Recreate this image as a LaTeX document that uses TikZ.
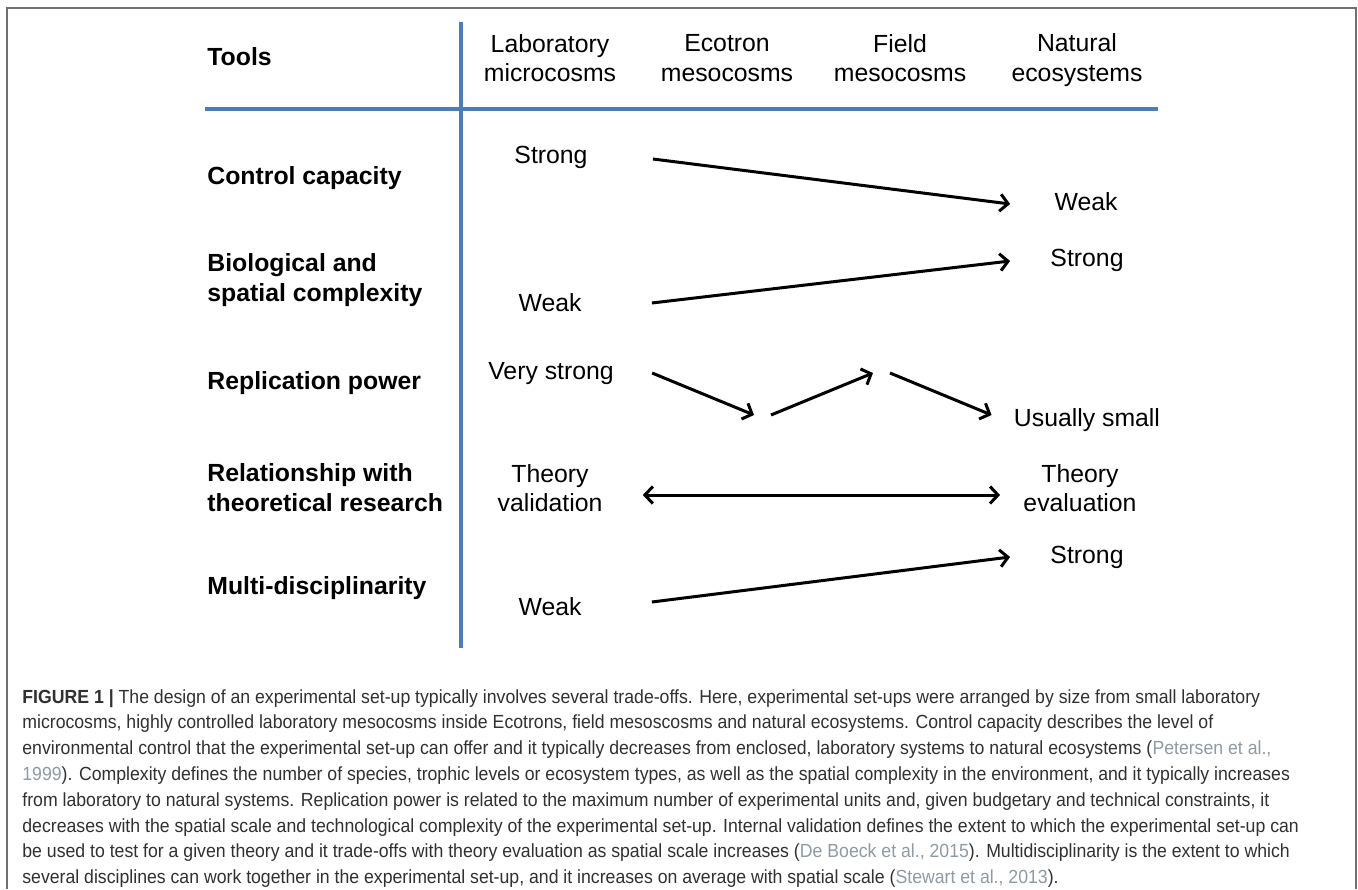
\documentclass[tikz,border=0pt]{standalone}
\usepackage{fontspec}
\setmainfont{Liberation Sans}
\newfontfamily\capfont[FakeStretch=0.93]{Liberation Sans}
\usepackage{tikz}
\usetikzlibrary{arrows.meta}
\usetikzlibrary{calc}
\usetikzlibrary{positioning}
\usepackage{xcolor}
\definecolor{ruleblue}{HTML}{4A7EBB}
\definecolor{citegray}{HTML}{8E9AA4}
\definecolor{captext}{HTML}{303030}
\definecolor{framegray}{HTML}{707070}
\newcommand{\refcol}[1]{\textcolor{citegray}{#1}}
\tikzset{
lbl/.style={font=\fontsize{12.4}{14.8}\selectfont,
  inner sep=0pt,
    align=center},
val/.style={lbl,
  text height=8.9pt,
    text depth=0pt},
rowlbl/.style={font=\fontsize{12.4}{15}\selectfont\bfseries,
  inner sep=0pt,
    anchor=west,
    align=left},
trend/.style={line width=1.5pt,
  -{Straight Barb[length=4pt,width=8.5pt]}},
trendboth/.style={line width=1.5pt,
  {Straight Barb[length=4pt,width=8.5pt]}-{Straight Barb[length=4pt,width=8.5pt]}},
rule/.style={draw=ruleblue,
  line width=1.75pt},
}
\begin{document}
\begin{tikzpicture}[x=0.5pt,y=-0.5pt]
  \useasboundingbox (0,0) rectangle (1358,889);

  % outer frame
  \draw [framegray, line width=0.75pt] (7,889) |- (1356,8) -- (1356,889);

  % table rules
  \draw [rule] (461,22) -- (461,648);
  \draw [rule] (205,109) -- (1158,109);

  % Column heads
  \node [rowlbl] (tools) at (207,57) {Tools};
  \node [lbl] (lab) at (550,58) {Laboratory\\microcosms};
  \node [lbl] (eco) at (727,58) {Ecotron\\mesocosms};
  \node [lbl] (fld) at (900,58) {Field\\mesocosms};
  \node [lbl] (nat) at (1077,60) {Natural\\ecosystems};

  % Row heads
  \node [rowlbl] (ctrl) at (207,178) {Control capacity};
  \node [rowlbl] (cplx) at (207,280) {Biological and\\spatial complexity};
  \node [rowlbl] (repl) at (207,383) {Replication power};
  \node [rowlbl] (theo) at (207,488) {Relationship with\\theoretical research};
  \node [rowlbl] (mdis) at (207,588) {Multi-disciplinarity};

  % Values
  \node [val] (ctrl-l) at (551,155) {Strong};
  \node [val] (ctrl-r) at (1086,202) {Weak};
  \node [val] (cplx-l) at (550,303) {Weak};
  \node [val] (cplx-r) at (1087,258) {Strong};
  \node [val] (repl-l) at (551,371) {Very strong};
  \node [val] (repl-r) at (1087,418) {Usually small};
  \node [lbl] (theo-l) at (550,488) {Theory\\validation};
  \node [lbl] (theo-r) at (1080,488) {Theory\\evaluation};
  \node [val] (mdis-l) at (550,607) {Weak};
  \node [val] (mdis-r) at (1087,555) {Strong};
  \coordinate (dip) at (762,415);
  \coordinate (peak) at (882,373);

  % Trends
  \draw [trend] ([shift={(65,4)}]ctrl-l.east) -- ([shift={(-44,2)}]ctrl-r.west);
  \draw [trend] ([shift={(70,0)}]cplx-l.east) -- ([shift={(-40,3)}]cplx-r.west);
  \draw [trend] ([shift={(38,2)}]repl-l.east) -- ([shift={(-8,0)}]dip);
  \draw [trend] ([shift={(9,0)}]dip) -- ([shift={(-9,0)}]peak);
  \draw [trend] ([shift={(8,0)}]peak) -- ([shift={(-22,-3)}]repl-r.west);
  \draw [trendboth] ([shift={(40,7)}]theo-l.east) -- ([shift={(-23,7)}]theo-r.west);
  \draw [trend] ([shift={(70,-5)}]mdis-l.east) -- ([shift={(-40,2)}]mdis-r.west);

  % Caption
  \node [anchor=north west, inner sep=0pt, align=left, text=captext,
    font=\capfont\fontsize{9.5}{12.9}\selectfont] (cap) at (22,689)
  {\textbf{FIGURE 1 |} The design of an experimental set-up typically involves several trade-offs. Here, experimental set-ups were arranged by size from small laboratory\\
  microcosms, highly controlled laboratory mesocosms inside Ecotrons, field mesoscosms and natural ecosystems. Control capacity describes the level of\\
  environmental control that the experimental set-up can offer and it typically decreases from enclosed, laboratory systems to natural ecosystems (\refcol{Petersen et al.,}\\
  \refcol{1999}). Complexity defines the number of species, trophic levels or ecosystem types, as well as the spatial complexity in the environment, and it typically increases\\
  from laboratory to natural systems. Replication power is related to the maximum number of experimental units and, given budgetary and technical constraints, it\\
  decreases with the spatial scale and technological complexity of the experimental set-up. Internal validation defines the extent to which the experimental set-up can\\
  be used to test for a given theory and it trade-offs with theory evaluation as spatial scale increases (\refcol{De Boeck et al., 2015}). Multidisciplinarity is the extent to which\\
  several disciplines can work together in the experimental set-up, and it increases on average with spatial scale (\refcol{Stewart et al., 2013}).};
\end{tikzpicture}
\end{document}
